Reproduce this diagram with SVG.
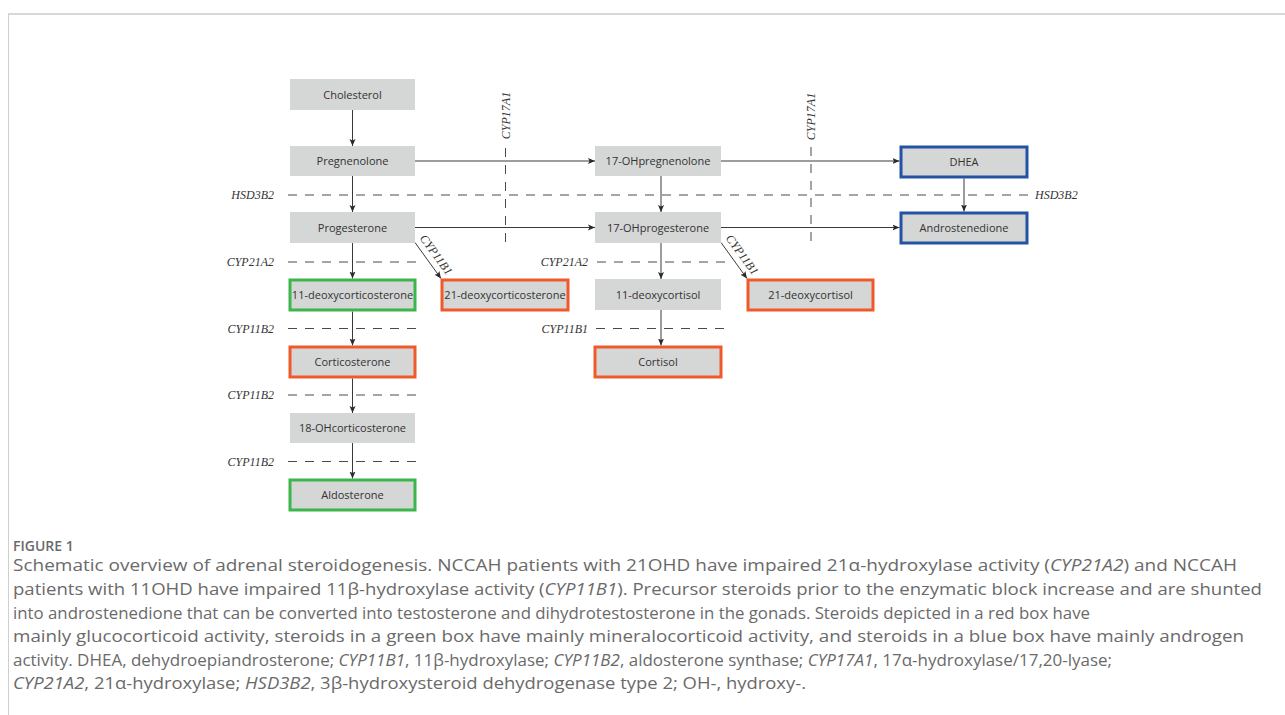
<svg xmlns="http://www.w3.org/2000/svg" width="1285" height="715" viewBox="0 0 1285 715">
<style>
.box{fill:#d5d6d6;}
.red{stroke:#f05a2a;stroke-width:3;}
.green{stroke:#3db54a;stroke-width:3;}
.blue{stroke:#2452a4;stroke-width:3;}
.bt{font-family:"Open Sans","Liberation Sans",sans-serif;font-size:11px;fill:#333;text-anchor:middle;}
.lab{font-family:"Liberation Serif",serif;font-style:italic;font-size:12px;fill:#333;}
.arr{stroke:#3a3a3a;stroke-width:1;fill:none;marker-end:url(#ah);}
.dash{stroke:#4a4a4a;stroke-width:1;stroke-dasharray:9 8;fill:none;}
.cap{font-family:"Open Sans","Liberation Sans",sans-serif;font-size:15.5px;fill:#6a6a6a;}
.it{font-style:italic;}
</style>
<defs>
<marker id="ah" markerUnits="userSpaceOnUse" markerWidth="8" markerHeight="7" refX="7" refY="3.5" orient="auto">
<path d="M0,0.5 L7,3.5 L0,6.5 L1.5,3.5 z" fill="#2a2a2a"/>
</marker>
</defs>
<rect width="1285" height="715" fill="#fff"/>
<g id="frame">
<line x1="8" y1="14" x2="1285" y2="14" stroke="#d8d8d8" stroke-width="2"/>
<line x1="8.5" y1="14" x2="8.5" y2="715" stroke="#cfcfcf" stroke-width="1"/>
</g>
<g id="enzymes">
<line class="dash" x1="288" y1="195" x2="1028" y2="195"/>
<text class="lab" x="274" y="199" text-anchor="end">HSD3B2</text>
<text class="lab" x="1035" y="199">HSD3B2</text>
<line class="dash" x1="505.5" y1="148" x2="505.5" y2="244"/>
<text class="lab" transform="translate(509.5,115.5) rotate(-90)" text-anchor="middle">CYP17A1</text>
<line class="dash" x1="811" y1="147" x2="811" y2="244"/>
<text class="lab" transform="translate(815,116.5) rotate(-90)" text-anchor="middle">CYP17A1</text>
<line class="dash" x1="288" y1="262" x2="416" y2="262"/>
<text class="lab" x="274" y="266" text-anchor="end">CYP21A2</text>
<line class="dash" x1="597" y1="262" x2="725" y2="262"/>
<text class="lab" x="588" y="266" text-anchor="end">CYP21A2</text>
<line class="dash" x1="288" y1="328.5" x2="416" y2="328.5"/>
<text class="lab" x="274" y="332.5" text-anchor="end">CYP11B2</text>
<line class="dash" x1="596" y1="328.5" x2="724" y2="328.5"/>
<text class="lab" x="588" y="332.5" text-anchor="end">CYP11B1</text>
<line class="dash" x1="288" y1="395" x2="416" y2="395"/>
<text class="lab" x="274" y="399" text-anchor="end">CYP11B2</text>
<line class="dash" x1="288" y1="461.5" x2="416" y2="461.5"/>
<text class="lab" x="274" y="465.5" text-anchor="end">CYP11B2</text>
<text class="lab" transform="translate(433,257) rotate(54)" text-anchor="middle">CYP11B1</text>
<text class="lab" transform="translate(739,257) rotate(54)" text-anchor="middle">CYP11B1</text>
</g>
<g id="connectors">
<line class="arr" x1="352.5" y1="110" x2="352.5" y2="146"/>
<line class="arr" x1="352.5" y1="176" x2="352.5" y2="212"/>
<line class="arr" x1="352.5" y1="243" x2="352.5" y2="278.5"/>
<line class="arr" x1="352.5" y1="311.5" x2="352.5" y2="345.5"/>
<line class="arr" x1="352.5" y1="378.5" x2="352.5" y2="413"/>
<line class="arr" x1="352.5" y1="443" x2="352.5" y2="478.5"/>
<line class="arr" x1="661" y1="176" x2="661" y2="212"/>
<line class="arr" x1="661" y1="243" x2="661" y2="279"/>
<line class="arr" x1="661" y1="310" x2="661" y2="345.5"/>
<line class="arr" x1="964" y1="178.5" x2="964" y2="211.5"/>
<line class="arr" x1="415" y1="161" x2="595" y2="161"/>
<line class="arr" x1="415" y1="227.5" x2="595" y2="227.5"/>
<line class="arr" x1="721" y1="161" x2="899.5" y2="161"/>
<line class="arr" x1="721" y1="227.5" x2="899.5" y2="227.5"/>
<line class="arr" x1="415" y1="242.5" x2="441" y2="278.5"/>
<line class="arr" x1="721" y1="242.5" x2="747" y2="278.5"/>
</g>
<g id="cholesterol"><rect class="box" x="290" y="79" width="125" height="31"/><text class="bt" x="352.5" y="98.5">Cholesterol</text></g>
<g id="pregnenolone"><rect class="box" x="290" y="146" width="125" height="30"/><text class="bt" x="352.5" y="165">Pregnenolone</text></g>
<g id="progesterone"><rect class="box" x="290" y="212" width="125" height="31"/><text class="bt" x="352.5" y="231.5">Progesterone</text></g>
<g id="deoxycorticosterone11"><rect class="box green" x="290" y="280" width="125" height="30"/><text class="bt" x="352.5" y="299">11-deoxycorticosterone</text></g>
<g id="deoxycorticosterone21"><rect class="box red" x="442" y="280" width="126" height="30"/><text class="bt" x="505" y="299">21-deoxycorticosterone</text></g>
<g id="corticosterone"><rect class="box red" x="290" y="347" width="125" height="30"/><text class="bt" x="352.5" y="366">Corticosterone</text></g>
<g id="ohcorticosterone18"><rect class="box" x="290" y="413" width="125" height="30"/><text class="bt" x="352.5" y="432">18-OHcorticosterone</text></g>
<g id="aldosterone"><rect class="box green" x="290" y="480" width="125" height="30"/><text class="bt" x="352.5" y="499">Aldosterone</text></g>
<g id="ohpregnenolone17"><rect class="box" x="595" y="146" width="126" height="30"/><text class="bt" x="658" y="165">17-OHpregnenolone</text></g>
<g id="ohprogesterone17"><rect class="box" x="595" y="212" width="126" height="31"/><text class="bt" x="658" y="231.5">17-OHprogesterone</text></g>
<g id="deoxycortisol11"><rect class="box" x="595" y="279" width="126" height="31"/><text class="bt" x="658" y="298.5">11-deoxycortisol</text></g>
<g id="deoxycortisol21"><rect class="box red" x="748" y="280" width="125" height="30"/><text class="bt" x="810.5" y="299">21-deoxycortisol</text></g>
<g id="cortisol"><rect class="box red" x="595" y="347" width="126" height="30"/><text class="bt" x="658" y="366">Cortisol</text></g>
<g id="dhea"><rect class="box blue" x="901" y="147" width="126" height="30"/><text class="bt" x="964" y="166">DHEA</text></g>
<g id="androstenedione"><rect class="box blue" x="901" y="213" width="126" height="30"/><text class="bt" x="964" y="232">Androstenedione</text></g>
<g id="caption">
<text class="cap" x="13" y="551" style="font-size:14px;font-weight:600">FIGURE 1</text>
<text class="cap" x="13" y="571" textLength="1224" lengthAdjust="spacingAndGlyphs">Schematic overview of adrenal steroidogenesis. NCCAH patients with 21OHD have impaired 21α-hydroxylase activity (<tspan class="it">CYP21A2</tspan>) and NCCAH</text>
<text class="cap" x="13" y="595" textLength="1249" lengthAdjust="spacingAndGlyphs">patients with 11OHD have impaired 11β-hydroxylase activity (<tspan class="it">CYP11B1</tspan>). Precursor steroids prior to the enzymatic block increase and are shunted</text>
<text class="cap" x="13" y="619" textLength="1077" lengthAdjust="spacingAndGlyphs">into androstenedione that can be converted into testosterone and dihydrotestosterone in the gonads. Steroids depicted in a red box have</text>
<text class="cap" x="13" y="642" textLength="1231" lengthAdjust="spacingAndGlyphs">mainly glucocorticoid activity, steroids in a green box have mainly mineralocorticoid activity, and steroids in a blue box have mainly androgen</text>
<text class="cap" x="13" y="666" textLength="1099" lengthAdjust="spacingAndGlyphs">activity. DHEA, dehydroepiandrosterone; <tspan class="it">CYP11B1</tspan>, 11β-hydroxylase; <tspan class="it">CYP11B2</tspan>, aldosterone synthase; <tspan class="it">CYP17A1</tspan>, 17α-hydroxylase/17,20-lyase;</text>
<text class="cap" x="13" y="689" textLength="793" lengthAdjust="spacingAndGlyphs"><tspan class="it">CYP21A2</tspan>, 21α-hydroxylase; <tspan class="it">HSD3B2</tspan>, 3β-hydroxysteroid dehydrogenase type 2; OH-, hydroxy-.</text>
</g>
</svg>
